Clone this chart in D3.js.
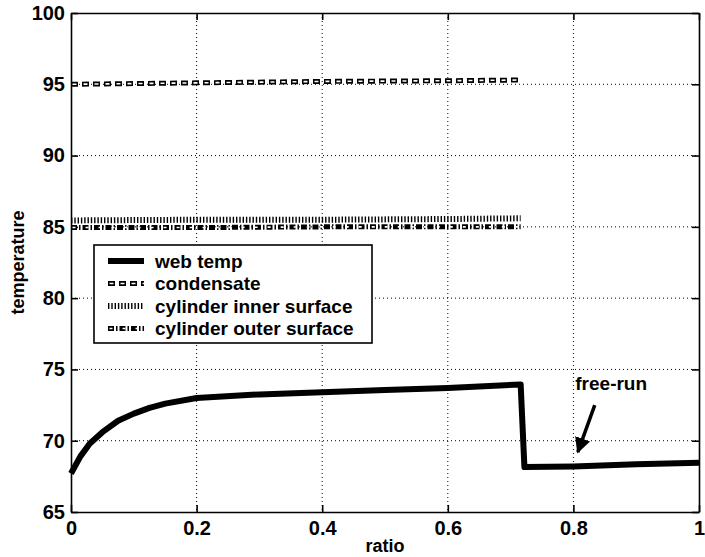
<html>
<head>
    <title>temperature vs ratio</title>
    <style>
        body { margin: 0; background: white; }
        svg text { font-family: Arial, "Liberation Sans", sans-serif; font-weight: bold; fill: black; }
    </style>
    <script type="text/javascript" src="https://cdn.jsdelivr.net/npm/d3@7"></script>
</head>
<body>
<div id="chart"></div>
<script>
    // values
    var webRatio = [0, 0.005, 0.015, 0.03, 0.05, 0.075, 0.1, 0.125, 0.15, 0.2, 0.3, 0.4, 0.5, 0.6, 0.716, 0.722, 0.8, 0.9, 1.0];
    var webTemp = [67.7, 68.1, 68.9, 69.8, 70.6, 71.4, 71.9, 72.3, 72.6, 73.0, 73.25, 73.4, 73.55, 73.7, 73.95, 68.15, 68.2, 68.35, 68.45];

    var cylRatio = [0, 0.2, 0.4, 0.6, 0.716];
    var condensate = [95.0, 95.1, 95.2, 95.25, 95.3];
    var innerSurface = [85.45, 85.5, 85.5, 85.55, 85.6];
    var outerSurface = [84.95, 84.95, 85.0, 85.0, 85.0];

    var xTicks = [0, 0.2, 0.4, 0.6, 0.8, 1];
    var xTickLabels = ['0', '0.2', '0.4', '0.6', '0.8', '1'];
    var yTicks = [65, 70, 75, 80, 85, 90, 95, 100];

    var legendLabels = ['web temp', 'condensate', 'cylinder inner surface', 'cylinder outer surface'];

    var width = 705, height = 557;
    var margin = { top: 13, right: 6, bottom: 45, left: 71 };
    var w = width - margin.left - margin.right;
    var h = height - margin.top - margin.bottom;

    var svg = d3.select('#chart')
            .append('svg')
            .attr('width', width)
            .attr('height', height);

    var g = svg.append('g')
            .attr('transform', 'translate(' + margin.left + ',' + margin.top + ')');

    var x = d3.scaleLinear().domain([0, 1]).range([0, w]);
    var y = d3.scaleLinear().domain([65, 100]).range([h, 0]);

    // dotted grid
    g.append('g').selectAll('line')
            .data(xTicks.slice(1, -1))
        .enter().append('line')
            .attr('x1', function(d) { return x(d); })
            .attr('x2', function(d) { return x(d); })
            .attr('y1', 0)
            .attr('y2', h)
            .attr('stroke', '#000')
            .attr('stroke-width', 1)
            .attr('stroke-dasharray', '1,3');

    g.append('g').selectAll('line')
            .data(yTicks.slice(1, -1))
        .enter().append('line')
            .attr('x1', 0)
            .attr('x2', w)
            .attr('y1', function(d) { return y(d); })
            .attr('y2', function(d) { return y(d); })
            .attr('stroke', '#000')
            .attr('stroke-width', 1)
            .attr('stroke-dasharray', '1,3');

    // axes, MATLAB style: ticks inside, box all round
    var xAxis = d3.axisBottom(x).tickValues(xTicks)
            .tickFormat(function(d, i) { return xTickLabels[i]; })
            .tickSizeInner(-7).tickSizeOuter(0).tickPadding(12);
    var yAxis = d3.axisLeft(y).tickValues(yTicks)
            .tickSizeInner(-7).tickSizeOuter(0).tickPadding(6);

    var gx = g.append('g')
            .attr('transform', 'translate(0,' + h + ')')
            .call(xAxis);
    var gy = g.append('g').call(yAxis);

    g.append('g').call(d3.axisTop(x).tickValues(xTicks).tickFormat('').tickSizeInner(-7).tickSizeOuter(0));
    g.append('g').attr('transform', 'translate(' + w + ',0)')
            .call(d3.axisRight(y).tickValues(yTicks).tickFormat('').tickSizeInner(-7).tickSizeOuter(0));

    svg.selectAll('.domain').attr('stroke', '#000').attr('stroke-width', 1.6);
    svg.selectAll('.tick line').attr('stroke', '#000').attr('stroke-width', 1.6);
    gx.selectAll('text').style('font-size', '20px').attr('dy', '0.55em');
    gy.selectAll('text').style('font-size', '20px');

    svg.append('text')
            .attr('x', margin.left + w / 2)
            .attr('y', 552)
            .attr('text-anchor', 'middle')
            .style('font-size', '18px')
            .text('ratio');

    svg.append('text')
            .attr('transform', 'translate(24,' + (margin.top + h / 2) + ') rotate(-90)')
            .attr('text-anchor', 'middle')
            .style('font-size', '18px')
            .text('temperature');

    // line styles
    function zipLine(xs, ys) {
        return xs.map(function(d, i) { return [d, ys[i]]; });
    }

    var line = d3.line()
            .x(function(d) { return x(d[0]); })
            .y(function(d) { return y(d[1]); });

    // each series: list of stroke layers drawn on top of each other
    var styles = [
        [{ color: '#000', width: 6, dash: null }],
        [{ color: '#000', width: 5, dash: '7,4' }, { color: '#fff', width: 1.6, dash: '7,4' }],
        [{ color: '#000', width: 6, dash: '1.4,1.9' }],
        [{ color: '#000', width: 5, dash: '6,2,1.5,2' }, { color: '#fff', width: 1.6, dash: '6,2,1.5,2' }]
    ];

    var series = [
        zipLine(webRatio, webTemp),
        zipLine(cylRatio, condensate),
        zipLine(cylRatio, innerSurface),
        zipLine(cylRatio, outerSurface)
    ];

    function drawStyled(parent, pathFn, style) {
        style.forEach(function(s) {
            var p = parent.append('path')
                    .attr('d', pathFn)
                    .attr('fill', 'none')
                    .attr('stroke', s.color)
                    .attr('stroke-width', s.width)
                    .attr('stroke-linejoin', 'round');
            if (s.dash) {
                p.attr('stroke-dasharray', s.dash);
                // inner white layer only covers the dash centre
                if (s.color === '#fff') p.attr('stroke-dasharray', s.dash.split(',').map(function(v, i) {
                    return i % 2 === 0 ? Math.max(v - 3, 0.01) : +v + 3;
                }).join(',')).attr('stroke-dashoffset', -1.5);
            }
        });
    }

    [1, 2, 3, 0].forEach(function(i) {
        drawStyled(g, line(series[i]), styles[i]);
    });

    // legend
    var legend = svg.append('g').attr('transform', 'translate(94,245)');
    legend.append('rect')
            .attr('width', 278)
            .attr('height', 98)
            .attr('fill', '#fff')
            .attr('stroke', '#000')
            .attr('stroke-width', 1.6);

    legendLabels.forEach(function(label, i) {
        var ly = 16 + i * 22.5;
        drawStyled(legend, 'M14,' + ly + 'H50', styles[i]);
        legend.append('text')
                .attr('x', 61)
                .attr('y', ly + 6.5)
                .style('font-size', '19px')
                .text(label);
    });

    // free-run annotation
    var arrowFrom = [0.834, 72.5], arrowTo = [0.807, 69.2];
    svg.append('defs').append('marker')
            .attr('id', 'head')
            .attr('viewBox', '0 0 10 10')
            .attr('refX', 9).attr('refY', 5)
            .attr('markerWidth', 4.5).attr('markerHeight', 4.5)
            .attr('orient', 'auto')
        .append('path')
            .attr('d', 'M0,0L10,5L0,10z')
            .attr('fill', '#000');

    g.append('line')
            .attr('x1', x(arrowFrom[0]))
            .attr('y1', y(arrowFrom[1]))
            .attr('x2', x(arrowTo[0]))
            .attr('y2', y(arrowTo[1]))
            .attr('stroke', '#000')
            .attr('stroke-width', 3.5)
            .attr('marker-end', 'url(#head)');

    g.append('text')
            .attr('x', x(0.803))
            .attr('y', y(73.55))
            .style('font-size', '19px')
            .text('free-run');
</script>
</body>
</html>
